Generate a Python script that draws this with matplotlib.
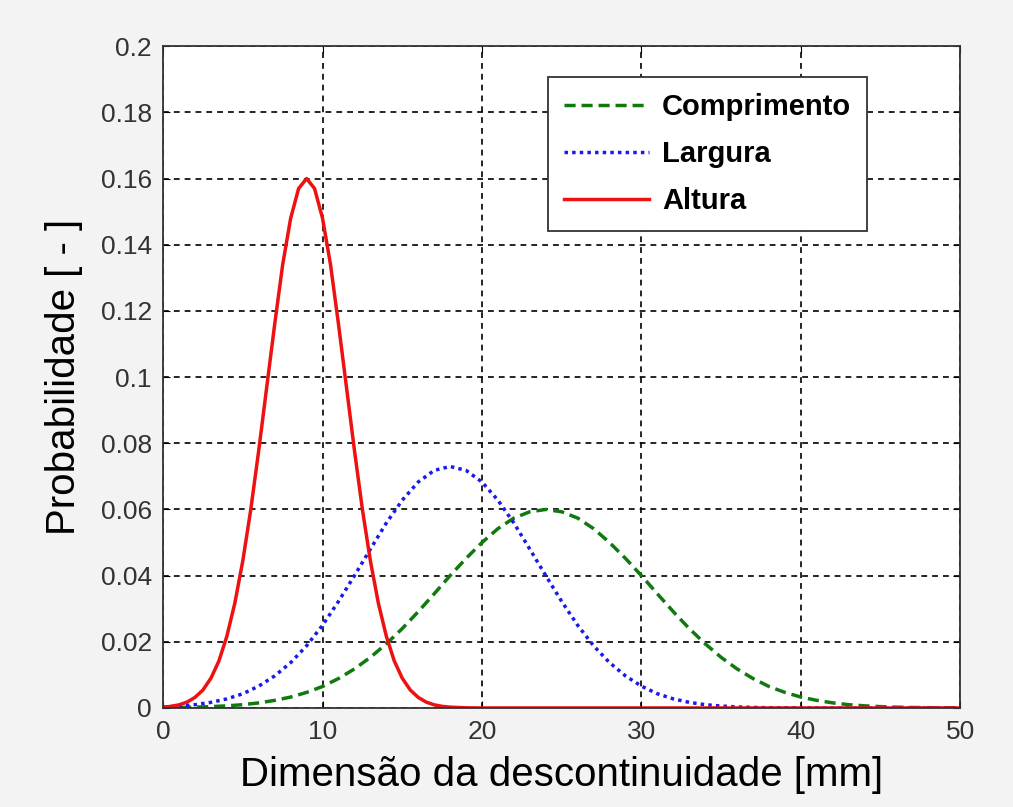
import numpy as np
import matplotlib.pyplot as plt

# values
x = [0, 1, 2, 3, 4, 5, 6, 7, 8, 9, 10, 11, 12, 13, 14, 15, 16, 17, 18, 19, 20,
     21, 22, 23, 24, 25, 26, 27, 28, 29, 30, 31, 32, 33, 34, 35, 36, 37, 38, 39, 40,
     41, 42, 43, 44, 45, 46, 47, 48, 49, 50]

comprimento = [0.00009, 0.00015, 0.00025, 0.00041, 0.00065, 0.0010, 0.00154, 0.0023, 0.0033, 0.0047,
               0.0065, 0.0089, 0.0118, 0.0153, 0.0194, 0.0240, 0.0291, 0.0345, 0.0400, 0.0452,
               0.0500, 0.0542, 0.0574, 0.0593, 0.0600, 0.0593, 0.0574, 0.0542, 0.0500, 0.0452,
               0.0400, 0.0345, 0.0291, 0.0240, 0.0194, 0.0153, 0.0118, 0.0089, 0.0065, 0.0047,
               0.0033, 0.0023, 0.00154, 0.0010, 0.00065, 0.00041, 0.00025, 0.00015, 0.00009, 0.00005,
               0.00003]

largura = [0.00032, 0.00058, 0.0010, 0.0017, 0.00275, 0.0043, 0.0066, 0.0097, 0.0137, 0.0188,
           0.0250, 0.0322, 0.0400, 0.0480, 0.0559, 0.0628, 0.0683, 0.0718, 0.0730, 0.0718,
           0.0683, 0.0628, 0.0559, 0.0480, 0.0400, 0.0322, 0.0250, 0.0188, 0.0137, 0.0097,
           0.0066, 0.0043, 0.00275, 0.0017, 0.0010, 0.00058, 0.00032, 0.00017, 0.00008, 0.00004,
           0.00002, 0.0, 0.0, 0.0, 0.0, 0.0, 0.0, 0.0, 0.0, 0.0,
           0.0]

x_alt = [0, 0.5, 1, 1.5, 2, 2.5, 3, 3.5, 4, 4.5, 5, 5.5, 6, 6.5, 7, 7.5, 8, 8.5, 9,
         9.5, 10, 10.5, 11, 11.5, 12, 12.5, 13, 13.5, 14, 14.5, 15, 15.5, 16, 16.5, 17,
         17.5, 18, 19, 20, 30, 40, 50]
altura = [0.00025, 0.00049, 0.00095, 0.00178, 0.0032, 0.00545, 0.0090, 0.0142, 0.0217, 0.0317,
          0.0445, 0.0600, 0.0779, 0.0970, 0.1160, 0.1340, 0.1480, 0.1570, 0.1600,
          0.1570, 0.1480, 0.1340, 0.1160, 0.0970, 0.0779, 0.0600, 0.0445, 0.0317, 0.0217,
          0.0142, 0.0090, 0.00545, 0.0032, 0.00178, 0.00095, 0.00049, 0.00025, 0.00005, 0.0,
          0.0, 0.0, 0.0]

plt.rcParams['font.family'] = ['Liberation Sans', 'DejaVu Sans']

fig = plt.figure(figsize=(10.13, 8.07), dpi=100, facecolor='#f3f3f3')
ax = fig.add_axes([0.161, 0.1227, 0.787, 0.820])

ax.plot(x, comprimento, color='#107a10', lw=2.5, ls=(0, (3.2, 1.7)), label='Comprimento')
ax.plot(x, largura, color='#1a1aee', lw=2.5, ls=(0, (1, 1.2)), label='Largura')
ax.plot(x_alt, altura, color='#ee1111', lw=2.5, label='Altura')

ax.set_xlim(0, 50)
ax.set_ylim(0, 0.2)
ax.set_xticks([0, 10, 20, 30, 40, 50])
ax.set_yticks([0, 0.02, 0.04, 0.06, 0.08, 0.1, 0.12, 0.14, 0.16, 0.18, 0.2])
ax.set_yticklabels(['0', '0.02', '0.04', '0.06', '0.08', '0.1', '0.12', '0.14', '0.16', '0.18', '0.2'])
ax.grid(True, color='black', ls=(0, (3.5, 3)), lw=1.2)
ax.tick_params(direction='in', top=True, right=True, labelsize=19, labelcolor='#333333', length=5)
ax.tick_params(axis='x', pad=9)
ax.tick_params(axis='y', pad=8)
for s in ax.spines.values():
    s.set_color('#333333')
    s.set_linewidth(1.3)

ax.set_xlabel('Dimensão da descontinuidade [mm]', fontsize=29, labelpad=8)
ax.set_ylabel('Probabilidade [ - ]', fontsize=29, labelpad=13)

leg = ax.legend(loc='upper left', bbox_to_anchor=(0.483, 0.953), borderaxespad=0,
                fancybox=False, framealpha=1, edgecolor='#333333',
                prop={'weight': 'bold', 'size': 21}, handlelength=2.9, handletextpad=0.45,
                borderpad=0.55, labelspacing=0.65)
leg.get_frame().set_linewidth(1.3)

plt.savefig('out.png', dpi=100, facecolor=fig.get_facecolor())
